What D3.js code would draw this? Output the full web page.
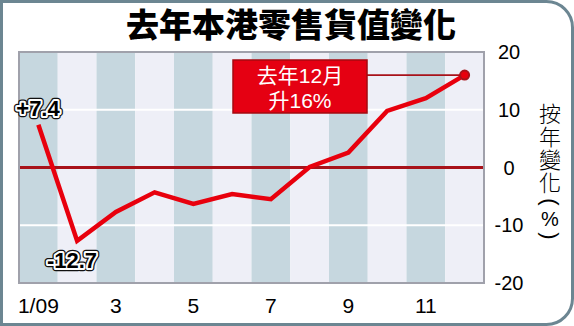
<!DOCTYPE html>
<html>
<head>
<meta charset="utf-8">
<script src="https://cdn.jsdelivr.net/npm/d3@7"></script>
<style>
  body { margin: 0; background: #fff; }
  svg { display: block; }
</style>
</head>
<body>
<svg id="chart" width="574" height="326"></svg>
<script>
// data
var months = ["1/09", "2", "3", "4", "5", "6", "7", "8", "9", "10", "11", "12"]
var month_labels = ["1/09", "", "3", "", "5", "", "7", "", "9", "", "11", ""]
var values = [7.4, -12.7, -7.7, -4.3, -6.3, -4.6, -5.5, 0.1, 2.6, 9.8, 12.0, 16.0]
var y_ticks = [20, 10, 0, -10, -20]
var grid_values = [10, -10]
var title_text = "去年本港零售貨值變化"
var axis_title = "按年變化"
var axis_unit = ["(", "%", ")"]
var note_lines = ["去年12月", "升16%"]
var first_label = "+7.4", low_label = "-12.7"

var svg = d3.select("#chart")
var W = 574, H = 326

// outer frame, rounded on the right side only
var r = 26
svg.append("path")
  .attr("d", "M1.5,1.5 H" + (W - 1.5 - r) + " A" + r + "," + r + " 0 0 1 " + (W - 1.5) + "," + (1.5 + r) +
             " V" + (H - 1.5 - r) + " A" + r + "," + r + " 0 0 1 " + (W - 1.5 - r) + "," + (H - 1.5) +
             " H1.5 Z")
  .style("fill", "#fff")
  .style("stroke", "#6c8692")
  .style("stroke-width", 3)

var plot = {left: 19, right: 484, top: 52, bottom: 283}

var x = d3.scaleBand().domain(months).range([plot.left, plot.right]).padding(0)
var y = d3.scaleLinear().domain([-20, 20]).range([plot.bottom, plot.top])
var cx = d => x(d) + x.bandwidth() / 2

// column stripes
svg.selectAll(".stripe")
  .data(months)
  .enter()
  .append("rect")
  .attr("class", "stripe")
  .attr("x", d => x(d))
  .attr("y", plot.top)
  .attr("width", x.bandwidth())
  .attr("height", plot.bottom - plot.top)
  .style("fill", (d, i) => i % 2 == 0 ? "#c6d7df" : "#eeeff7")

// white gridlines
svg.selectAll(".grid")
  .data(grid_values)
  .enter()
  .append("line")
  .attr("class", "grid")
  .attr("x1", plot.left).attr("x2", plot.right)
  .attr("y1", d => y(d)).attr("y2", d => y(d))
  .style("stroke", "#fff")
  .style("stroke-width", 2)

// zero line
svg.append("line")
  .attr("x1", plot.left).attr("x2", plot.right)
  .attr("y1", y(0)).attr("y2", y(0))
  .style("stroke", "#a8121a")
  .style("stroke-width", 3)

// plot border
svg.append("path")
  .attr("d", "M" + plot.left + "," + plot.bottom + " V" + plot.top + " H" + plot.right + " V" + plot.bottom + " Z")
  .style("fill", "none")
  .style("stroke", "#a0a1ab")
  .style("stroke-width", 2)

// the series line
var line = d3.line().x((d, i) => cx(months[i])).y(d => y(d))
svg.append("path")
  .datum(values)
  .attr("d", line)
  .style("fill", "none")
  .style("stroke", "#e8000d")
  .style("stroke-width", 4.5)
  .style("stroke-linejoin", "miter")

// annotation box for last point
var last = values.length - 1
var box = {x: 233, y: 60, w: 134, h: 53}
svg.append("line")
  .attr("x1", box.x + box.w).attr("x2", cx(months[last]))
  .attr("y1", y(values[last])).attr("y2", y(values[last]))
  .style("stroke", "#a8121a")
  .style("stroke-width", 1.8)
svg.append("circle")
  .attr("cx", cx(months[last]))
  .attr("cy", y(values[last]))
  .attr("r", 4.5)
  .style("fill", "#e8000d")
  .style("stroke", "#a8121a")
  .style("stroke-width", 2)
svg.append("rect")
  .attr("x", box.x).attr("y", box.y)
  .attr("width", box.w).attr("height", box.h)
  .style("fill", "#e50012")
  .style("stroke", "#a50a10")
  .style("stroke-width", 1.5)
svg.selectAll(".note")
  .data(note_lines)
  .enter()
  .append("text")
  .attr("class", "note")
  .attr("x", box.x + box.w / 2)
  .attr("y", (d, i) => box.y + 15 + i * 25)
  .attr("dominant-baseline", "central")
  .attr("text-anchor", "middle")
  .style("font-family", "'Liberation Sans', 'Noto Sans CJK TC', sans-serif")
  .style("font-size", "21px")
  .style("fill", "#fff")
  .text(d => d)

// outlined value labels
function halo_label(txt, px, py) {
  var layers = [{stroke: "#111", sw: 6.5}, {stroke: "#fff", sw: 4}, {stroke: "none", sw: 0}]
  layers.forEach(function (l) {
    svg.append("text")
      .attr("x", px).attr("y", py)
      .attr("text-anchor", "middle")
      .attr("dominant-baseline", "central")
      .style("font-family", "'Liberation Sans', Arial, sans-serif")
      .style("font-weight", "bold")
      .style("font-size", "22px")
      .style("fill", "#000")
      .style("stroke", l.stroke)
      .style("stroke-width", l.sw)
      .style("stroke-linejoin", "round")
      .text(txt)
  })
}
halo_label(first_label, 38, 108)
halo_label(low_label, 72, 260)

// y tick labels on the right
svg.selectAll(".ytick")
  .data(y_ticks)
  .enter()
  .append("text")
  .attr("class", "ytick")
  .attr("x", 509)
  .attr("y", d => y(d))
  .attr("text-anchor", "middle")
  .attr("dominant-baseline", "central")
  .style("font-family", "'Liberation Sans', Arial, sans-serif")
  .style("font-size", "20px")
  .style("fill", "#000")
  .text(d => d)

// x tick labels
svg.selectAll(".xtick")
  .data(months)
  .enter()
  .append("text")
  .attr("class", "xtick")
  .attr("x", d => cx(d))
  .attr("y", 305)
  .attr("text-anchor", "middle")
  .attr("dominant-baseline", "central")
  .style("font-family", "'Liberation Sans', Arial, sans-serif")
  .style("font-size", "21px")
  .style("fill", "#000")
  .text((d, i) => month_labels[i])

// vertical axis title, one text in vertical writing mode
svg.append("text")
  .attr("x", 550)
  .attr("y", 103)
  .style("writing-mode", "vertical-rl")
  .style("font-family", "'Noto Sans CJK TC', sans-serif")
  .style("font-size", "22px")
  .style("font-weight", 300)
  .style("letter-spacing", "1px")
  .style("fill", "#000")
  .text(axis_title)

// unit under it, brackets turned sideways
var unit_y = [202, 219, 236]
svg.selectAll(".unit")
  .data(axis_unit)
  .enter()
  .append("text")
  .attr("class", "unit")
  .attr("transform", (d, i) => "translate(550," + unit_y[i] + ")" + (i != 1 ? " rotate(90)" : ""))
  .attr("text-anchor", "middle")
  .attr("dominant-baseline", "central")
  .style("font-family", "'Liberation Sans', Arial, sans-serif")
  .style("font-size", (d, i) => i != 1 ? "22px" : "20px")
  .style("fill", "#000")
  .text(d => d)

// title
svg.append("text")
  .attr("x", 291)
  .attr("y", 23)
  .attr("text-anchor", "middle")
  .attr("dominant-baseline", "central")
  .style("font-family", "'Noto Sans CJK TC', sans-serif")
  .style("font-size", "33px")
  .style("font-weight", 900)
  .style("fill", "#000")
  .text(title_text)
</script>
</body>
</html>
